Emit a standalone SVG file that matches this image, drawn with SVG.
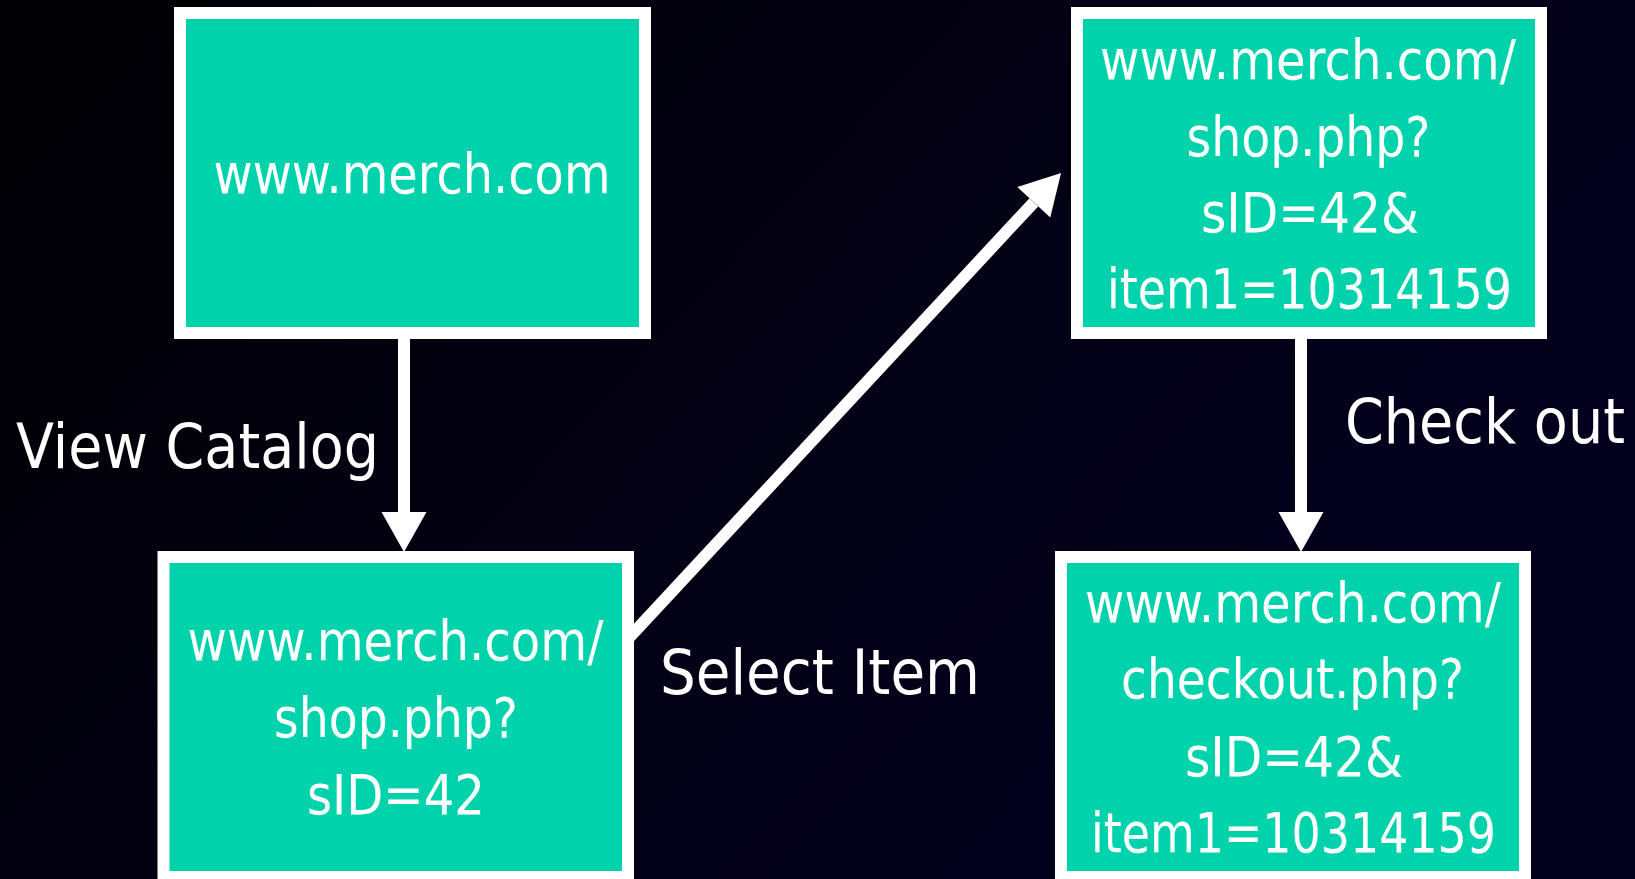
<svg xmlns="http://www.w3.org/2000/svg" width="1635" height="879" viewBox="0 0 1635 879">
  <defs>
    <linearGradient id="bg" x1="0" y1="0" x2="1" y2="0.5">
      <stop offset="0" stop-color="#000003"/>
      <stop offset="0.5" stop-color="#030112"/>
      <stop offset="1" stop-color="#03001e"/>
    </linearGradient>
    <marker id="head" markerUnits="userSpaceOnUse" markerWidth="40" markerHeight="45" refX="0" refY="22.5" orient="auto" overflow="visible">
      <path d="M0,0 L40,22.5 L0,45 Z" fill="#ffffff"/>
    </marker>
    <style>
      .box { fill: #00d3ab; stroke: #ffffff; stroke-width: 12; }
      .txt { font-family: "DejaVu Sans", Verdana, sans-serif; font-size: 55px; fill: #ffffff; text-anchor: middle; }
      .lbl { font-family: "DejaVu Sans", Verdana, sans-serif; font-size: 63px; fill: #ffffff; }
      .edge { stroke: #ffffff; stroke-width: 12; fill: none; marker-end: url(#head); }
    </style>
  </defs>

  <rect width="1635" height="879" fill="url(#bg)"/>

  <!-- connectors sit under the boxes -->
  <g id="connectors">
    <line class="edge" x1="404" y1="333" x2="404" y2="512"/>
    <line class="edge" x1="626" y1="641" x2="1033.8" y2="202.3"/>
    <line class="edge" x1="1301" y1="333" x2="1301" y2="512"/>
  </g>

  <g id="labels">
    <text class="lbl" x="16" y="468" textLength="363" lengthAdjust="spacingAndGlyphs">View Catalog</text>
    <text class="lbl" x="660" y="694" textLength="320" lengthAdjust="spacingAndGlyphs">Select Item</text>
    <text class="lbl" x="1345" y="443" textLength="280" lengthAdjust="spacingAndGlyphs">Check out</text>
  </g>

  <g id="home">
    <rect class="box" x="180" y="13" width="465" height="320"/>
    <text class="txt" x="412" y="193" textLength="397" lengthAdjust="spacingAndGlyphs">www.merch.com</text>
  </g>

  <g id="shop">
    <rect class="box" x="163.5" y="557" width="464.5" height="320"/>
    <text class="txt" x="395.5" y="660" textLength="416" lengthAdjust="spacingAndGlyphs">www.merch.com/</text>
    <text class="txt" x="396" y="737" textLength="244" lengthAdjust="spacingAndGlyphs">shop.php?</text>
    <text class="txt" x="396" y="814" textLength="178" lengthAdjust="spacingAndGlyphs">sID=42</text>
  </g>

  <g id="shop-item">
    <rect class="box" x="1077" y="13" width="464" height="320"/>
    <text class="txt" x="1308" y="79" textLength="416" lengthAdjust="spacingAndGlyphs">www.merch.com/</text>
    <text class="txt" x="1308.5" y="156" textLength="244" lengthAdjust="spacingAndGlyphs">shop.php?</text>
    <text class="txt" x="1310" y="232" textLength="218" lengthAdjust="spacingAndGlyphs">sID=42&amp;</text>
    <text class="txt" x="1309.5" y="308" textLength="405" lengthAdjust="spacingAndGlyphs">item1=10314159</text>
  </g>

  <g id="checkout">
    <rect class="box" x="1061" y="557" width="464" height="320"/>
    <text class="txt" x="1293" y="622" textLength="416" lengthAdjust="spacingAndGlyphs">www.merch.com/</text>
    <text class="txt" x="1292.5" y="698" textLength="343" lengthAdjust="spacingAndGlyphs">checkout.php?</text>
    <text class="txt" x="1294" y="776" textLength="218" lengthAdjust="spacingAndGlyphs">sID=42&amp;</text>
    <text class="txt" x="1293.5" y="852" textLength="405" lengthAdjust="spacingAndGlyphs">item1=10314159</text>
  </g>
</svg>
